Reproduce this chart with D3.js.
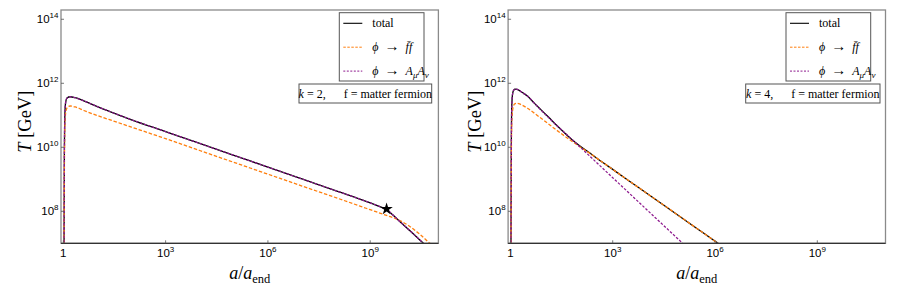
<!DOCTYPE html>
<html>
<head>
<meta charset="utf-8">
<script src="https://cdn.jsdelivr.net/npm/d3@7"></script>
<style>
  body { margin: 0; background: #fff; }
  text { font-family: "Liberation Serif", "DejaVu Serif", serif; }
  .tick-label { font-family: "Liberation Sans", Arial, sans-serif; }
</style>
</head>
<body>
<svg id="chart" width="900" height="295"></svg>
<script>
// [log10(a/a_end), log10(T/GeV)]

// k = 2
const k2Total = [
  [0.02, 6.5], [0.03, 9.6], [0.045, 11.0], [0.07, 11.42], [0.11, 11.54], [0.2, 11.58],
  [0.35, 11.55], [0.6, 11.45], [1, 11.27], [1.5, 11.06], [2, 10.86], [3, 10.49], [4, 10.12],
  [5, 9.75], [6, 9.38], [7, 9.01], [8, 8.64], [8.8, 8.34], [9.3, 8.14],
  [9.48, 8.06], [9.65, 7.9], [9.82, 7.73], [10.2, 7.36], [10.56, 7.0], [10.75, 6.81]
];
const k2Fermion = [
  [0.02, 6.5], [0.032, 9.4], [0.05, 10.8], [0.08, 11.15], [0.13, 11.26], [0.2, 11.29],
  [0.35, 11.26], [0.6, 11.15], [1, 10.99], [1.5, 10.81], [2, 10.63], [3, 10.27], [4, 9.9],
  [5, 9.53], [6, 9.16], [7, 8.79], [7.82, 8.49], [9, 8.05], [9.48, 7.87],
  [9.82, 7.74], [10.1, 7.57], [10.4, 7.33], [10.75, 7.0], [10.9, 6.86]
];
const k2Vector = [
  [0.02, 6.5], [0.03, 9.6], [0.045, 11.0], [0.07, 11.42], [0.11, 11.54], [0.2, 11.58],
  [0.35, 11.55], [0.6, 11.45], [1, 11.27], [1.5, 11.06], [2, 10.86], [3, 10.49], [4, 10.12],
  [5, 9.75], [6, 9.38], [7, 9.01], [8, 8.64], [8.8, 8.34], [9.3, 8.14],
  [9.48, 8.06], [9.65, 7.9], [9.82, 7.73], [10.2, 7.36], [10.56, 7.0], [10.75, 6.81]
];
const k2Star = [9.48, 8.07];

// k = 4
const k4Total = [
  [0.015, 6.5], [0.025, 9.8], [0.04, 11.3], [0.065, 11.68], [0.1, 11.79], [0.135, 11.82],
  [0.2, 11.81], [0.35, 11.71], [0.5, 11.6], [0.7, 11.38], [0.87, 11.2], [1.1, 10.96],
  [1.4, 10.64], [1.7, 10.34], [2.0, 10.07], [2.33, 9.82], [2.7, 9.53], [3.0, 9.31],
  [3.8, 8.71], [4.5, 8.19], [5.3, 7.59], [6.1, 6.99], [6.3, 6.84]
];
const k4Fermion = [
  [0.015, 6.5], [0.028, 9.8], [0.045, 10.9], [0.08, 11.25], [0.12, 11.35], [0.18, 11.375],
  [0.3, 11.34], [0.5, 11.22], [0.87, 10.93], [1.3, 10.58], [1.8, 10.19], [2.33, 9.81],
  [3.0, 9.31], [3.8, 8.71], [4.5, 8.19], [5.3, 7.59], [6.1, 6.99], [6.3, 6.84]
];
const k4Vector = [
  [0.015, 6.5], [0.025, 9.8], [0.04, 11.3], [0.065, 11.68], [0.1, 11.79], [0.135, 11.82],
  [0.2, 11.81], [0.35, 11.71], [0.5, 11.6], [0.7, 11.38], [0.87, 11.19], [1.1, 10.95],
  [1.4, 10.64], [1.7, 10.35], [2.0, 10.05], [3.0, 9.05], [4.0, 8.05], [5.07, 6.98], [5.3, 6.75]
];

const xTicks = [0, 3, 6, 9];
const yTicks = [8, 10, 12, 14];
const xDomain = [-0.068, 11];
const yDomain = [7, 14.29];

const colors = { total: '#000000', fermion: '#ff7f0e', vector: '#8e1a8e' };

const svg = d3.select('#chart');

// append text made of pieces: {t, it, sub, size, back}
const richText = (sel, parts, baseSize) => {
  parts.forEach(p => {
    const ts = sel.append('tspan').text(p.t);
    if (p.it) ts.style('font-style', 'italic');
    if (p.size) ts.style('font-size', p.size + 'px');
    if (p.sub) ts.attr('dy', p.sub).style('font-size', (p.size || baseSize * 0.7) + 'px');
    if (p.back) ts.attr('dy', p.back);
  });
  return sel;
};

const panels = [
  {
    k: 2, x0: 61, x1: 438.4, total: k2Total, fermion: k2Fermion, vector: k2Vector, star: k2Star,
    legend: [339.3, 424], note: [299, 431.7], yLabelX: 25, gap: '\u2003\u2002'
  },
  {
    k: 4, x0: 508.1, x1: 885.5, total: k4Total, fermion: k4Fermion, vector: k4Vector, star: null,
    legend: [786, 870.7], note: [745.7, 880], yLabelX: 475, gap: '\u2003\u2002'
  }
];

const plotTop = 10, plotBottom = 243.3;

panels.forEach((p, i) => {
  const x = d3.scaleLog().domain(xDomain.map(v => Math.pow(10, v))).range([p.x0, p.x1]);
  const y = d3.scaleLog().domain(yDomain.map(v => Math.pow(10, v))).range([plotBottom, plotTop]);
  const g = svg.append('g');

  g.append('clipPath').attr('id', 'clip' + i)
    .append('rect').attr('x', p.x0).attr('y', plotTop).attr('width', p.x1 - p.x0).attr('height', plotBottom - plotTop);

  const line = d3.line()
    .x(d => x(Math.pow(10, d[0])))
    .y(d => y(Math.pow(10, d[1])))
    .curve(d3.curveMonotoneX);

  const curves = g.append('g').attr('clip-path', `url(#clip${i})`);
  curves.append('path').datum(p.total).attr('d', line)
    .attr('fill', 'none').attr('stroke', colors.total).attr('stroke-width', 1.3);
  curves.append('path').datum(p.fermion).attr('d', line)
    .attr('fill', 'none').attr('stroke', colors.fermion).attr('stroke-width', 1.3)
    .attr('stroke-dasharray', '3.5,1.8');
  curves.append('path').datum(p.vector).attr('d', line)
    .attr('fill', 'none').attr('stroke', colors.vector).attr('stroke-width', 1.3)
    .attr('stroke-dasharray', '2.6,1.6');

  if (p.star) {
    g.append('path')
      .attr('d', d3.symbol(d3.symbolStar, 48)())
      .attr('transform', `translate(${x(Math.pow(10, p.star[0]))},${y(Math.pow(10, p.star[1]))})`)
      .attr('fill', '#000');
  }

  // frame
  g.append('rect').attr('x', p.x0).attr('y', plotTop).attr('width', p.x1 - p.x0).attr('height', plotBottom - plotTop)
    .attr('fill', 'none').attr('stroke', '#8a8a8a').attr('stroke-width', 1.3);
  g.append('line').attr('x1', p.x0).attr('x2', p.x1).attr('y1', plotBottom).attr('y2', plotBottom)
    .attr('stroke', '#333').attr('stroke-width', 1.3);

  // ticks
  xTicks.forEach(t => {
    const px = x(Math.pow(10, t));
    g.append('line').attr('x1', px).attr('x2', px).attr('y1', plotBottom).attr('y2', plotBottom - 3)
      .attr('stroke', '#555').attr('stroke-width', 0.8);
    const lab = g.append('text').attr('class', 'tick-label').attr('x', px).attr('y', 257)
      .attr('text-anchor', 'middle').style('font-size', '11.5px');
    if (t === 0) lab.text('1');
    else richText(lab, [{ t: '10' }, { t: String(t), sub: -5, size: 8 }], 11.5);
  });
  yTicks.forEach(t => {
    const py = y(Math.pow(10, t));
    g.append('line').attr('x1', p.x0).attr('x2', p.x0 + 3).attr('y1', py).attr('y2', py)
      .attr('stroke', '#555').attr('stroke-width', 0.8);
    const lab = g.append('text').attr('class', 'tick-label').attr('x', p.x0 - 2.5).attr('y', py + 4)
      .attr('text-anchor', 'end').style('font-size', '11.5px');
    richText(lab, [{ t: '10' }, { t: String(t), sub: -5, size: 8 }], 11.5);
  });

  // axis labels
  const yl = g.append('text')
    .attr('transform', `translate(${p.yLabelX + 6},${(plotTop + plotBottom) / 2 - 5}) rotate(-90)`)
    .attr('text-anchor', 'middle').style('font-size', '18.5px');
  richText(yl, [{ t: 'T', it: true }, { t: ' [GeV]' }], 18.5);

  const xl = g.append('text').attr('x', (p.x0 + p.x1) / 2).attr('y', 279)
    .attr('text-anchor', 'middle').style('font-size', '18px');
  richText(xl, [{ t: 'a', it: true }, { t: '/' }, { t: 'a', it: true }, { t: 'end', sub: 3.5, size: 12.5 }], 18);

  // legend
  const lg = g.append('g');
  lg.append('rect').attr('x', p.legend[0]).attr('y', 12.7).attr('width', p.legend[1] - p.legend[0]).attr('height', 68.3)
    .attr('fill', '#fff').attr('stroke', '#555').attr('stroke-width', 1);
  const arrow = { t: '\u2009\u2192\u2009', size: 15 };
  const entries = [
    { key: 'total', dash: null, parts: [{ t: 'total' }] },
    { key: 'fermion', dash: '2.5,1.5', parts: [{ t: '\u03D5 ', it: true }, arrow, { t: ' f\u0304', it: true }, { t: 'f', it: true }] },
    { key: 'vector', dash: '2,1.5', parts: [{ t: '\u03D5 ', it: true }, arrow, { t: ' A', it: true }, { t: '\u03BC', it: true, sub: 3, size: 9 }, { t: 'A', it: true, back: -3, size: 12 }, { t: '\u03BD', it: true, sub: 3, size: 9 }] }
  ];
  const lx = p.legend[0] + 4;
  entries.forEach((e, j) => {
    const ly = 23.3 + j * 23.9;
    lg.append('line').attr('x1', lx).attr('x2', lx + 19).attr('y1', ly).attr('y2', ly)
      .attr('stroke', colors[e.key]).attr('stroke-width', e.dash ? 1 : 1.1)
      .attr('stroke-dasharray', e.dash);
    const t = lg.append('text').attr('x', lx + 29).attr('y', ly + 4).style('font-size', '12px');
    richText(t, e.parts, 12);
  });

  // annotation box
  lg.append('rect').attr('x', p.note[0]).attr('y', 84).attr('width', p.note[1] - p.note[0]).attr('height', 19)
    .attr('fill', '#fff').attr('stroke', '#555').attr('stroke-width', 1);
  const nt = lg.append('text').attr('x', (p.note[0] + p.note[1]) / 2).attr('y', 97.5)
    .attr('text-anchor', 'middle').style('font-size', '12px');
  richText(nt, [{ t: 'k', it: true }, { t: ' = ' + p.k + ',' + p.gap + 'f = matter fermion' }], 12);
});
</script>
</body>
</html>
